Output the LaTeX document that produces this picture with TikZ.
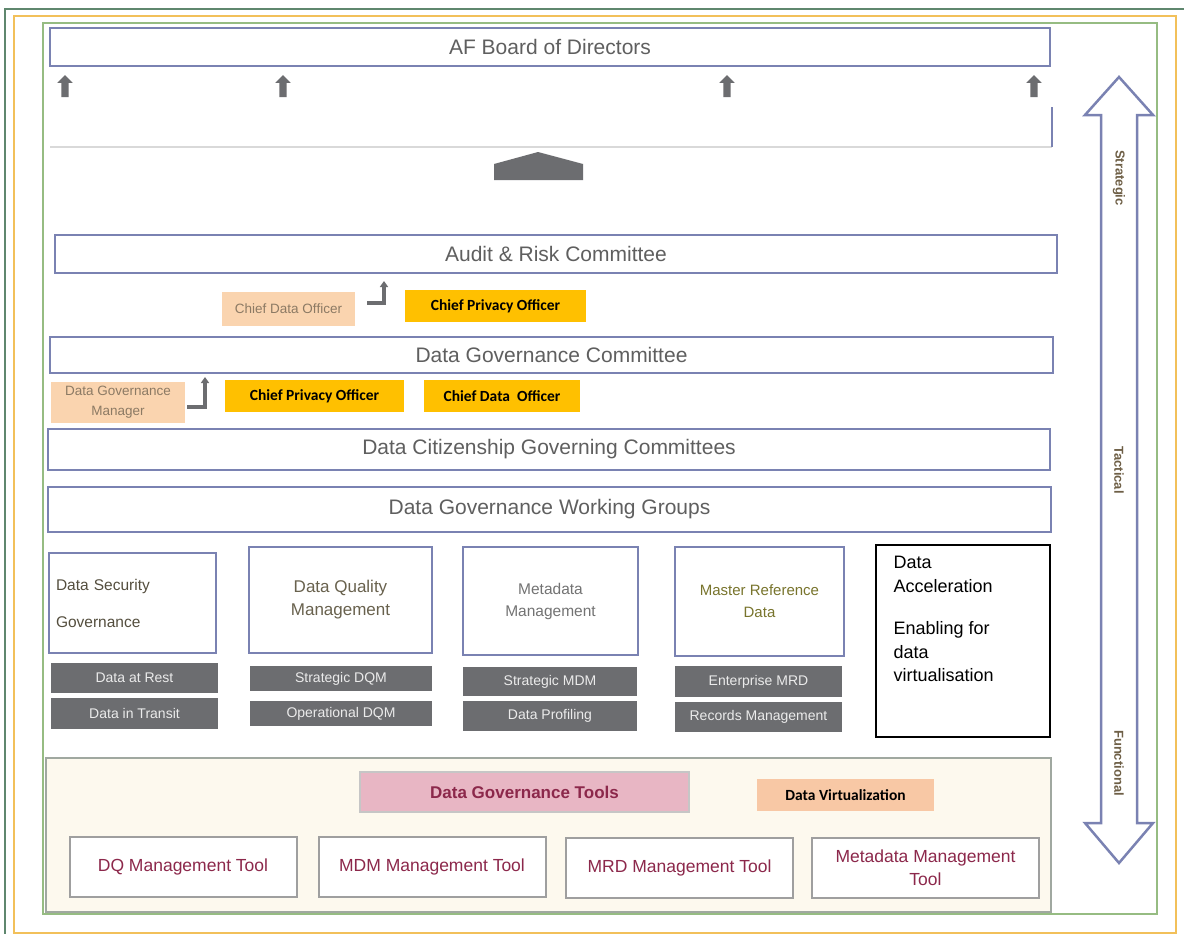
\documentclass[tikz,border=0pt]{standalone}
\usepackage{fontspec}
\setmainfont{Liberation Sans}
\newfontfamily\calibri{Carlito}
\usetikzlibrary{shapes.arrows,arrows.meta,positioning}
\definecolor{boxblue}{RGB}{122,130,178}
\definecolor{labelgray}{RGB}{95,95,95}
\definecolor{bargray}{RGB}{108,109,112}
\definecolor{peach}{RGB}{250,212,175}
\definecolor{peachtext}{RGB}{140,122,100}
\definecolor{virtpeach}{RGB}{248,200,165}
\definecolor{gold}{RGB}{255,192,0}
\definecolor{rosepink}{RGB}{232,182,196}
\definecolor{maroon}{RGB}{140,40,75}
\definecolor{cream}{RGB}{253,249,238}
\definecolor{olivegray}{RGB}{105,98,78}
\definecolor{phasebrown}{RGB}{110,95,70}
\definecolor{framegreen}{RGB}{150,188,130}
\definecolor{frameorange}{RGB}{242,192,90}
\definecolor{darkframe}{RGB}{95,135,110}
\definecolor{panelgray}{RGB}{160,168,160}

\begin{document}
\begin{tikzpicture}[x=1pt,y=-1pt,>={Triangle[length=6pt,width=8pt]}]
				\tikzstyle{tier} = [draw=boxblue, line width=2.5pt, fill=white, text=labelgray, minimum height=38pt, inner sep=0pt, font=\fontsize{21}{25}\selectfont]
				\tikzstyle{officer} = [fill=gold, inner sep=0pt, minimum height=32pt, font=\calibri\bfseries\fontsize{15.5}{18}\selectfont]
				\tikzstyle{deputy} = [fill=peach, text=peachtext, inner sep=0pt, align=center, font=\fontsize{13.5}{20}\selectfont]
				\tikzstyle{area} = [draw=boxblue, line width=2.5pt, fill=white, text=olivegray, inner sep=0pt, align=center, font=\fontsize{17}{23}\selectfont]
				\tikzstyle{sub} = [fill=bargray, text=white!92!black, inner sep=0pt, font=\fontsize{14}{16}\selectfont]
				\tikzstyle{tool} = [draw=gray!75, line width=2pt, fill=white, text=maroon, minimum width=227pt, minimum height=60pt, inner sep=0pt, align=center, font=\fontsize{17.5}{23}\selectfont]
				\tikzstyle{uparrow} = [single arrow, shape border rotate=90, fill=bargray, inner sep=3.5pt, minimum height=22pt, single arrow head extend=4pt]
				\tikzstyle{elbow} = [->, draw=bargray, line width=3.5pt]
				\tikzstyle{phase} = [rotate=-90, text=phasebrown, font=\bfseries\fontsize{13}{15}\selectfont]

				\useasboundingbox[fill=white] (0,0) rectangle (1184,934);
				\draw[darkframe, line width=1.5pt] (1184,9) -- (5,9) -- (5,934);
				\draw[frameorange, line width=1.5pt] (14,16) rectangle (1176,933);
				\draw[framegreen, line width=1.5pt] (43,23) rectangle (1157,914);

				\node[tier, minimum width=1000pt] (Board) at (550,47) {AF Board of Directors};
				\node[uparrow] (UpOne) at (65,88) {};
				\node[uparrow] (UpTwo) at (283,88) {};
				\node[uparrow] (UpThree) at (727,88) {};
				\node[uparrow] (UpFour) at (1034,88) {};
				\draw[gray!30, line width=1.5pt] (50,147) -- (1052,147);
				\draw[boxblue, line width=2pt] (1052,107) -- (1052,147);
				\fill[bargray] (494,180) -- (494,164) -- (538,152) -- (583,164) -- (583,180) -- cycle;

				\node[tier, minimum width=1002pt] (AuditRisk) at (556,254) {Audit \& Risk Committee};
				\node[deputy, minimum width=133pt, minimum height=34pt] (ChiefData) at (288.5,309) {Chief Data Officer};
				\node[officer, minimum width=181pt] (ChiefPrivacy) at (495.5,306) {Chief Privacy Officer};
				\coordinate (ElbowOneTail) at (367,303);
				\coordinate (ElbowOneHead) at (384,281);
				\draw[elbow] (ElbowOneTail) -| (ElbowOneHead);

				\node[tier, minimum width=1003pt, minimum height=36pt] (GovCommittee) at (551.5,355) {Data Governance Committee};
				\node[deputy, minimum width=134pt, minimum height=41pt] (GovManager) at (118,402.5) {Data Governance\\Manager};
				\node[officer, minimum width=179pt] (ChiefPrivacyTwo) at (314.5,396) {Chief Privacy Officer};
				\node[officer, minimum width=156pt] (ChiefDataTwo) at (502,396) {Chief Data~ Officer};
				\coordinate (ElbowTwoTail) at (187,407);
				\coordinate (ElbowTwoHead) at (205,377);
				\draw[elbow] (ElbowTwoTail) -| (ElbowTwoHead);

				\node[tier, minimum width=1002pt, minimum height=41pt] (Citizenship) at (549,449.5) {Data Citizenship Governing Committees};
				\node[tier, minimum width=1003pt, minimum height=45pt] (WorkingGroups) at (549.5,509.5) {Data Governance Working Groups};

				\node[area, minimum width=167pt, minimum height=100pt, text width=153pt, align=left, text=olivegray!80!black, font=\fontsize{15.5}{37}\selectfont] (Security) at (132.5,603) {Data Security\\Governance};
				\node[area, minimum width=183pt, minimum height=106pt] (Quality) at (340.5,600) {Data Quality\\Management};
				\node[area, minimum width=175pt, minimum height=108pt, text=gray!90!black, font=\fontsize{15.5}{22}\selectfont] (Metadata) at (550.5,601) {Metadata\\Management};
				\node[area, minimum width=169pt, minimum height=109pt, text=olivegray!70!yellow!80!black, font=\fontsize{15}{22}\selectfont] (MasterRef) at (759.5,601.5) {Master Reference\\Data};
				\node[draw=black, line width=1.2pt, fill=white, minimum width=174pt, minimum height=192pt, inner sep=0pt] (AccBox) at (963,641) {};
				\node[below right=12pt and 18pt of AccBox.north west, align=left, inner sep=0pt, font=\fontsize{18}{23.5}\selectfont] (AccText) {Data\\Acceleration\\[19pt]Enabling for\\data\\virtualisation};

				\node[sub, minimum width=167pt, minimum height=30pt] (DataRest) at (134.5,678) {Data at Rest};
				\node[sub, minimum width=167pt, minimum height=31pt] (DataTransit) at (134.5,713.5) {Data in Transit};
				\node[sub, minimum width=182pt, minimum height=25pt] (StratDQM) at (341,678.5) {Strategic DQM};
				\node[sub, minimum width=182pt, minimum height=25pt] (OperDQM) at (341,713.5) {Operational DQM};
				\node[sub, minimum width=174pt, minimum height=29pt] (StratMDM) at (550,681.5) {Strategic MDM};
				\node[sub, minimum width=174pt, minimum height=30pt] (Profiling) at (550,716) {Data Profiling};
				\node[sub, minimum width=167pt, minimum height=31pt] (EntMRD) at (758.5,681.5) {Enterprise MRD};
				\node[sub, minimum width=167pt, minimum height=30pt] (Records) at (758.5,717) {Records Management};

				\node[draw=panelgray, line width=2pt, fill=cream, minimum width=1005pt, minimum height=154pt, inner sep=0pt] (ToolPanel) at (548.5,835) {};
				\node[fill=rosepink, draw=gray!45, line width=1.5pt, text=maroon, minimum width=329pt, minimum height=40pt, inner sep=0pt, font=\bfseries\fontsize{17}{20}\selectfont] (ToolsHead) at (524.5,792) {Data Governance Tools};
				\node[fill=virtpeach, minimum width=177pt, minimum height=32pt, inner sep=0pt, font=\calibri\bfseries\fontsize{15.5}{18}\selectfont] (Virtual) at (845.5,795) {Data Virtualization};
				\node[tool] (DQTool) at (183,867) {DQ Management Tool};
				\node[tool] (MDMTool) at (432,867) {MDM Management Tool};
				\node[tool] (MRDTool) at (679.5,867.5) {MRD Management Tool};
				\node[tool] (MetaTool) at (925.5,867.5) {Metadata Management\\Tool};

				\draw[boxblue, line width=2.5pt, fill=white] (1119,77) -- (1153,115) -- (1137,115) -- (1137,823) -- (1153,823) -- (1119,863) -- (1085,823) -- (1101,823) -- (1101,115) -- (1085,115) -- cycle;
				\node[phase] (Strategic) at (1119,178) {Strategic};
				\node[phase] (Tactical) at (1119,470) {Tactical};
				\node[phase] (Functional) at (1119,763) {Functional};
\end{tikzpicture}
\end{document}
